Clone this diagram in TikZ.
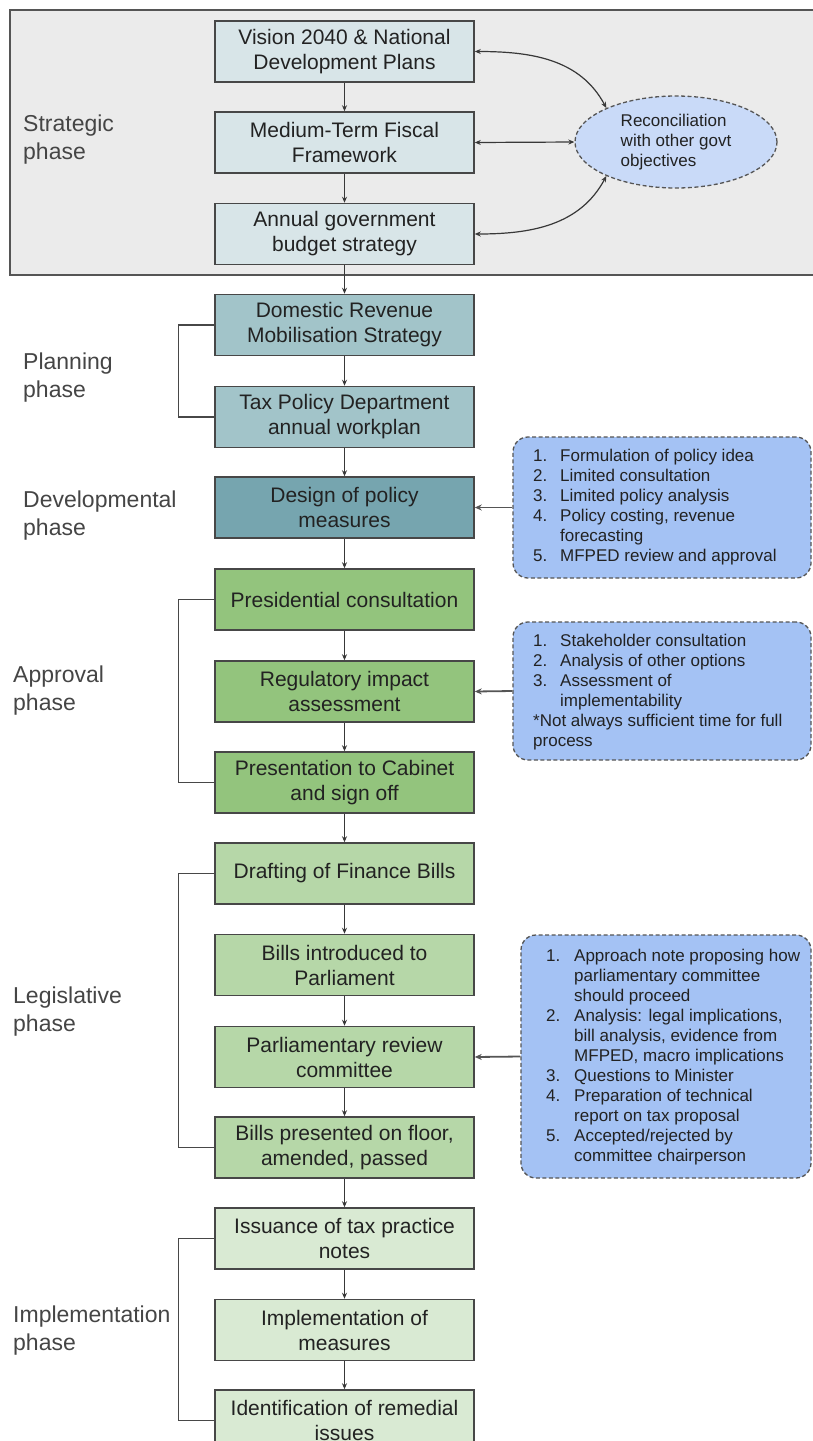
\documentclass[tikz,border=0pt]{standalone}
\usepackage{fontspec}
\setmainfont{Liberation Sans}
\usetikzlibrary{arrows.meta,shapes.geometric}
\definecolor{stratbg}{HTML}{EBEBEB}
\definecolor{frameline}{HTML}{555555}
\definecolor{boxline}{HTML}{474747}
\definecolor{textc}{HTML}{222222}
\definecolor{lblc}{HTML}{454545}
\definecolor{cstrat}{HTML}{D8E5E8}
\definecolor{cplan}{HTML}{A2C4C9}
\definecolor{cdev}{HTML}{76A5AF}
\definecolor{cappr}{HTML}{93C47D}
\definecolor{clegi}{HTML}{B6D7A8}
\definecolor{cimpl}{HTML}{D9EAD3}
\definecolor{cnote}{HTML}{A4C2F4}
\definecolor{cell}{HTML}{C9DAF8}
\newcommand\bxfont{\fontsize{21}{25}\selectfont}
\newcommand\lblfont{\fontsize{23}{28}\selectfont}
\newcommand\ntfont{\fontsize{17}{20}\selectfont}
\begin{document}
\begin{tikzpicture}[x=1pt,y=1pt,
  box/.style={draw=boxline, line width=1.5pt, minimum width=259pt, minimum height=61pt,
    align=center, font=\bxfont, text=textc, inner sep=0pt},
  lbl/.style={anchor=west, align=left, font=\lblfont, text=lblc, inner sep=0pt},
  arr/.style={-{Stealth[length=6pt,width=5pt]}, draw=textc!90, line width=1.2pt},
  biarr/.style={{Stealth[length=6pt,width=5pt]}-{Stealth[length=6pt,width=5pt]}, draw=textc!90, line width=1.2pt},
  narr/.style={-{Stealth[length=7pt,width=6pt]}, draw=frameline, line width=1.8pt},
  brk/.style={draw=boxline, line width=1.4pt},
  note/.style={draw=frameline, dash pattern=on 4pt off 2.5pt, line width=1.3pt, fill=cnote,
    rounded corners=15pt, inner sep=0pt},
  notetext/.style={anchor=west, font=\ntfont, text=textc, inner sep=0pt, align=left}]
\useasboundingbox (0,0) rectangle (813,-1441);
\clip (0,0) rectangle (813,-1441);
\fill[white] (0,0) rectangle (813,-1441);

% strategic frame
\draw[fill=stratbg, draw=frameline, line width=1.5pt] (10,-10) rectangle (816,-275);

% main column
\node[box, fill=cstrat] (v)  at (344.5,-51.5)  {Vision 2040 \& National\\Development Plans};
\node[box, fill=cstrat] (m)  at (344.5,-142.5) {Medium-Term Fiscal\\Framework};
\node[box, fill=cstrat] (a)  at (344.5,-234)   {Annual government\\budget strategy};
\node[box, fill=cplan]  (d)  at (344.5,-325)   {Domestic Revenue\\Mobilisation Strategy};
\node[box, fill=cplan]  (t)  at (344.5,-417)   {Tax Policy Department\\annual workplan};
\node[box, fill=cdev]   (dp) at (344.5,-507.5) {Design of policy\\measures};
\node[box, fill=cappr]  (pc) at (344.5,-599.5) {Presidential consultation};
\node[box, fill=cappr]  (ri) at (344.5,-691.5) {Regulatory impact\\assessment};
\node[box, fill=cappr]  (pr) at (344.5,-782.5) {Presentation to Cabinet\\and sign off};
\node[box, fill=clegi]  (df) at (344.5,-873.5) {Drafting of Finance Bills};
\node[box, fill=clegi]  (bi) at (344.5,-965)   {Bills introduced to\\Parliament};
\node[box, fill=clegi]  (pv) at (344.5,-1057)  {Parliamentary review\\committee};
\node[box, fill=clegi]  (bp) at (344.5,-1147.5){Bills presented on floor,\\amended, passed};
\node[box, fill=cimpl]  (is) at (344.5,-1238.5){Issuance of tax practice\\notes};
\node[box, fill=cimpl]  (im) at (344.5,-1330)  {Implementation of\\measures};
\node[box, fill=cimpl]  (id) at (344.5,-1420.5){Identification of remedial\\issues};

\foreach \p/\q in {v/m, m/a, a/d, d/t, t/dp, dp/pc, pc/ri, ri/pr, pr/df, df/bi, bi/pv, pv/bp, bp/is, is/im, im/id}
  \draw[arr] (\p.south) -- (\q.north);

% phase labels
\node[lbl] (l1) at (23,-140)  {Strategic\\phase};
\node[lbl] (l2) at (23,-378)  {Planning\\phase};
\node[lbl] (l3) at (23,-516)  {Developmental\\phase};
\node[lbl] (l4) at (13,-691)  {Approval\\phase};
\node[lbl] (l5) at (13,-1012) {Legislative\\phase};
\node[lbl] (l6) at (13,-1331) {Implementation\\phase};

% brackets
\draw[brk] (d.west)  -- ++(-36,0) |- (t.west);
\draw[brk] (pc.west) -- ++(-36,0) |- (pr.west);
\draw[brk] (df.west) -- ++(-36,0) |- (bp.west);
\draw[brk] (is.west) -- ++(-36,0) |- (id.west);

% reconciliation ellipse
\node[ellipse, draw=frameline, dash pattern=on 4pt off 2.5pt, line width=1.3pt, fill=cell,
  minimum width=202pt, minimum height=92pt, inner sep=0pt, align=left,
  font=\ntfont, text=textc] (rec) at (676,-142) {Reconciliation\\with other govt\\objectives};
\draw[biarr] (v.east) to[out=0,in=118] (rec.154);
\draw[biarr] (m.east) -- (rec.west);
\draw[biarr] (a.east) to[out=0,in=242] (rec.206);

% notes
\node[note, minimum width=298pt, minimum height=141pt] (n1) at (662,-507.5) {};
\node[notetext] (t1) at (533,-507.5) {\begin{tabular}{@{}p{27pt}@{}l@{}}
1. & Formulation of policy idea\\
2. & Limited consultation\\
3. & Limited policy analysis\\
4. & Policy costing, revenue\\
   & forecasting\\
5. & MFPED review and approval
\end{tabular}};
\draw[narr] (n1.west) -- (dp.east);

\node[note, minimum width=298pt, minimum height=138pt] (n2) at (662,-691) {};
\node[notetext] (t2) at (533,-692) {\begin{tabular}{@{}p{27pt}@{}l@{}}
1. & Stakeholder consultation\\
2. & Analysis of other options\\
3. & Assessment of\\
   & implementability\\
\multicolumn{2}{@{}l@{}}{*Not always sufficient time for full}\\
\multicolumn{2}{@{}l@{}}{process}
\end{tabular}};
\draw[narr] (n2.west) -- (ri.east);

\node[note, minimum width=290pt, minimum height=243pt] (n3) at (666,-1056.5) {};
\node[notetext] (t3) at (546,-1057.5) {\begin{tabular}{@{}p{28pt}@{}l@{}}
1. & Approach note proposing how\\
   & parliamentary committee\\
   & should proceed\\
2. & Analysis: legal implications,\\
   & bill analysis, evidence from\\
   & MFPED, macro implications\\
3. & Questions to Minister\\
4. & Preparation of technical\\
   & report on tax proposal\\
5. & Accepted/rejected by\\
   & committee chairperson
\end{tabular}};
\draw[narr] (n3.west) -- (pv.east);
\end{tikzpicture}
\end{document}
